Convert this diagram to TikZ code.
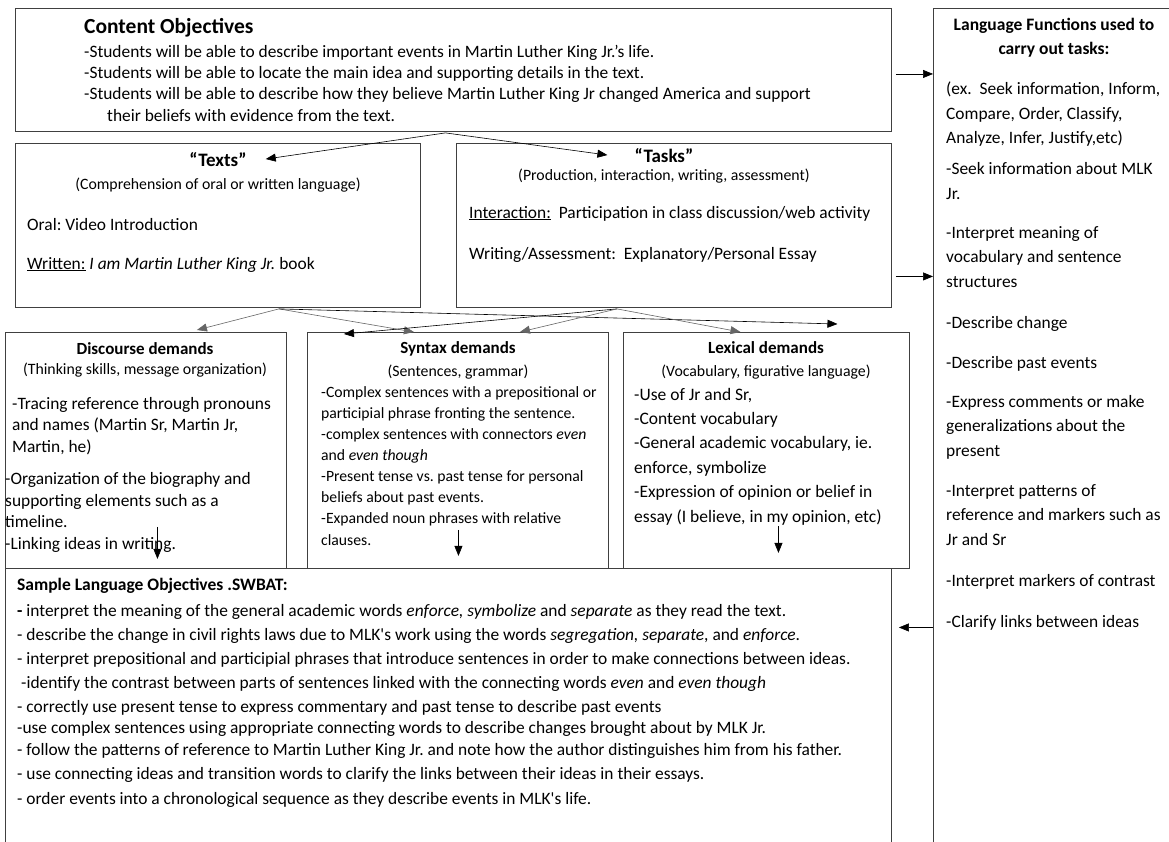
\documentclass[tikz,border=0pt]{standalone}
\usepackage{fontspec}
\setmainfont{Carlito}
\usetikzlibrary{arrows.meta}
\frenchspacing

\newcommand{\fsz}[2]{\fontsize{#1}{#2}\selectfont}

\begin{document}
\begin{tikzpicture}[x=1pt, y=-1pt]
\tikzstyle{boxStyle}=[draw=black!75, line width=0.9pt, inner sep=0pt, anchor=north west]
% multi-line nodes are placed by the baseline of their last line
\tikzstyle{bodyStyle}=[inner sep=0pt, align=left, anchor=base west]
\tikzstyle{headStyle}=[inner sep=0pt, anchor=base, font=\bfseries\fsz{17}{21}]
\tikzstyle{subStyle}=[inner sep=0pt, anchor=base, font=\fsz{15.8}{19}]
\tikzstyle{arrowStyle}=[-{Triangle[length=10pt, width=8pt]}, line width=0.6pt]

\clip (0,0) rectangle (1169,841);
\fill[white] (0,0) rectangle (1169,841);

% boxes
\node[boxStyle, minimum width=876pt, minimum height=123pt] (content) at (15,8) {};
\node[boxStyle, minimum width=405pt, minimum height=164pt] (texts) at (15,143) {};
\node[boxStyle, minimum width=435pt, minimum height=164pt] (tasks) at (456,143) {};
\node[boxStyle, minimum width=260pt, minimum height=860pt] (lf) at (933,8) {};
\node[boxStyle, minimum width=281pt, minimum height=236pt] (disc) at (5,332) {};
\node[boxStyle, minimum width=301pt, minimum height=236pt] (syn) at (307,332) {};
\node[boxStyle, minimum width=286pt, minimum height=236pt] (lex) at (623,332) {};
\node[boxStyle, minimum width=886pt, minimum height=300pt] (sample) at (5,568) {};

% content objectives
\node[bodyStyle, font=\bfseries\fsz{21.5}{24}] (contentHead) at ([shift={(69,25)}]content.north west) {Content Objectives};
\node[bodyStyle, font=\fsz{17.4}{21.3}] (contentBody) at ([shift={(69,113)}]content.north west)
  {-Students will be able to describe important events in Martin Luther King Jr.’s life.\\
   -Students will be able to locate the main idea and supporting details in the text.\\
   -Students will be able to describe how they believe Martin Luther King Jr changed America and support\\
   \hspace*{23pt}their beliefs with evidence from the text.};

% texts
\node[headStyle, font=\bfseries\fsz{19}{21}] (textsHead) at ([shift={(0,23)}]texts.north) {“Texts”};
\node[subStyle] (textsSub) at ([shift={(0,46)}]texts.north) {(Comprehension of oral or written language)};
\node[bodyStyle, font=\fsz{17.4}{39}] (textsBody) at ([shift={(12,126)}]texts.north west)
  {Oral: Video Introduction\\
   \underline{Written:} \textit{I am Martin Luther King Jr.} book};

% tasks
\node[headStyle, font=\bfseries\fsz{19}{21}] (tasksHead) at ([shift={(-10,19)}]tasks.north) {“Tasks”};
\node[subStyle] (tasksSub) at ([shift={(-10,37)}]tasks.north) {(Production, interaction, writing, assessment)};
\node[bodyStyle, font=\fsz{17.4}{41}] (tasksBody) at ([shift={(13,116)}]tasks.north west)
  {\underline{Interaction:}\ \ Participation in class discussion/web activity\\
   Writing/Assessment:\ \ Explanatory/Personal Essay};

% language functions
\node[headStyle, align=center, font=\bfseries\fsz{17.5}{24}] (lfHead) at ([shift={(121,46)}]lf.north west)
  {Language Functions used to\\ carry out tasks:};
\node[bodyStyle, font=\fsz{17.4}{24.5}] (lfBody) at ([shift={(13,619)}]lf.north west)
  {(ex.\ \ Seek information, Inform,\\
   Compare, Order, Classify,\\
   Analyze, Infer, Justify,etc)\\[6.5pt]
   -Seek information about MLK\\
   Jr.\\[14.5pt]
   -Interpret meaning of\\
   vocabulary and sentence\\
   structures\\[16.5pt]
   -Describe change\\[15.5pt]
   -Describe past events\\[14.5pt]
   -Express comments or make\\
   generalizations about the\\
   present\\[15.5pt]
   -Interpret patterns of\\
   reference and markers such as\\
   Jr and Sr\\[16.5pt]
   -Interpret markers of contrast\\[16.5pt]
   -Clarify links between ideas};

% discourse demands
\node[headStyle] (discHead) at ([shift={(140,22)}]disc.north west) {Discourse demands};
\node[subStyle] (discSub) at ([shift={(140,42)}]disc.north west) {(Thinking skills, message organization)};
\node[bodyStyle, font=\fsz{17.4}{21.5}] (discBodyA) at ([shift={(7,120)}]disc.north west)
  {-Tracing reference through pronouns\\
   and names (Martin Sr, Martin Jr,\\
   Martin, he)};
\node[bodyStyle, font=\fsz{17.4}{21.5}] (discBodyB) at ([shift={(0,217)}]disc.north west)
  {-Organization of the biography and\\
   supporting elements such as a\\
   timeline.\\
   -Linking ideas in writing.};

% syntax demands
\node[headStyle] (synHead) at ([shift={(151,21)}]syn.north west) {Syntax demands};
\node[subStyle] (synSub) at ([shift={(151,44)}]syn.north west) {(Sentences, grammar)};
\node[bodyStyle, font=\fsz{15.7}{21.1}] (synBody) at ([shift={(14,213)}]syn.north west)
  {-Complex sentences with a prepositional or\\
   participial phrase fronting the sentence.\\
   -complex sentences with connectors \textit{even}\\
   and \textit{even though}\\
   -Present tense vs. past tense for personal\\
   beliefs about past events.\\
   -Expanded noun phrases with relative\\
   clauses.};

% lexical demands
\node[headStyle] (lexHead) at ([shift={(143,21)}]lex.north west) {Lexical demands};
\node[subStyle] (lexSub) at ([shift={(143,44)}]lex.north west) {(Vocabulary, figurative language)};
\node[bodyStyle, font=\fsz{17.5}{24.4}] (lexBody) at ([shift={(11,190)}]lex.north west)
  {-Use of Jr and Sr,\\
   -Content vocabulary\\
   -General academic vocabulary, ie.\\
   enforce, symbolize\\
   -Expression of opinion or belief in\\
   essay (I believe, in my opinion, etc)};

% sample language objectives
\node[bodyStyle, font=\bfseries\fsz{17.5}{20}] (sampleHead) at ([shift={(12,22)}]sample.north west)
  {Sample Language Objectives .SWBAT:};
\node[bodyStyle, font=\fsz{17.4}{24}] (sampleBody) at ([shift={(12,236)}]sample.north west)
  {\textbf{-} interpret the meaning of the general academic words \textit{enforce, symbolize} and \textit{separate} as they read the text.\\
   - describe the change in civil rights laws due to MLK\textquotesingle s work using the words \textit{segregation, separate}, and \textit{enforce}.\\
   - interpret prepositional and participial phrases that introduce sentences in order to make connections between ideas.\\
   \hspace*{4pt}-identify the contrast between parts of sentences linked with the connecting words \textit{even} and \textit{even though}\\
   - correctly use present tense to express commentary and past tense to describe past events\\[-3pt]
   -use complex sentences using appropriate connecting words to describe changes brought about by MLK Jr.\\[-2pt]
   - follow the patterns of reference to Martin Luther King Jr. and note how the author distinguishes him from his father.\\[-0.5pt]
   - use connecting ideas and transition words to clarify the links between their ideas in their essays.\\[1pt]
   - order events into a chronological sequence as they describe events in MLK\textquotesingle s life.};

% arrows
\coordinate (contentOut) at ([shift={(-8,1)}]content.south);
\draw[arrowStyle] (contentOut) -- ([shift={(19,0)}]textsHead.east);
\draw[arrowStyle] (contentOut) -- ([shift={(-27,0)}]tasksHead.west);
\coordinate (fromContent) at ([shift={(4,4)}]content.east);
\draw[arrowStyle] (fromContent) -- (fromContent -| lf.west);
\coordinate (fromTasks) at ([shift={(4,51)}]tasks.east);
\draw[arrowStyle] (fromTasks) -- (fromTasks -| lf.west);
\coordinate (intoSample) at ([shift={(7,-91)}]sample.east);
\draw[arrowStyle] (intoSample -| lf.west) -- (intoSample);

\coordinate (textsOut) at ([shift={(61,1)}]texts.south);
\coordinate (tasksOut) at ([shift={(-57,1)}]tasks.south);
\draw[arrowStyle, draw=black!60] (textsOut) -- ([shift={(51,-2)}]disc.north);
\draw[arrowStyle, draw=black!60] (textsOut) -- ([shift={(-44,0)}]syn.north);
\draw[arrowStyle] (textsOut) -- ([shift={(71,-8)}]lex.north);
\draw[arrowStyle] (tasksOut) -- ([shift={(-114,2)}]syn.north);
\draw[arrowStyle, draw=black!60] (tasksOut) -- ([shift={(62,0)}]syn.north);
\draw[arrowStyle, draw=black!60] (tasksOut) -- ([shift={(-26,0)}]lex.north);

\draw[arrowStyle] ([shift={(11.5,-42)}]disc.south) -- ([shift={(11.5,-10)}]disc.south);
\draw[arrowStyle] ([shift={(0.5,-39)}]syn.south) -- ([shift={(0.5,-13)}]syn.south);
\draw[arrowStyle] ([shift={(12,-43)}]lex.south) -- ([shift={(12,-16)}]lex.south);
\end{tikzpicture}
\end{document}
